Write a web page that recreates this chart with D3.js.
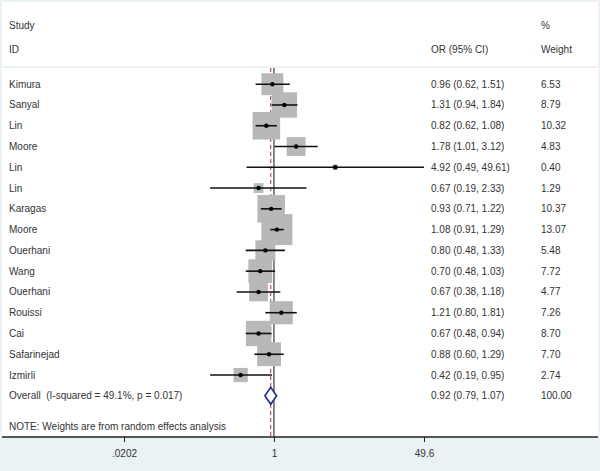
<!DOCTYPE html>
<html><head><meta charset="utf-8">
<script src="https://cdn.jsdelivr.net/npm/d3@7"></script>
<style>body{margin:0;background:#eaf2f3}svg text{font-family:"Liberation Sans",Arial,sans-serif;font-size:10px;fill:#333;white-space:pre}</style>
</head><body><svg id="c" width="600" height="471"></svg>
<script>
const studies = ["Kimura","Sanyal","Lin","Moore","Lin","Lin","Karagas","Moore","Ouerhani","Wang","Ouerhani","Rouissi","Cai","Safarinejad","Izmirli"];
const orVals = [0.96,1.31,0.82,1.78,4.92,0.67,0.93,1.08,0.80,0.70,0.67,1.21,0.67,0.88,0.42];
const loVals = [0.62,0.94,0.62,1.01,0.49,0.19,0.71,0.91,0.48,0.48,0.38,0.80,0.48,0.60,0.19];
const hiVals = [1.51,1.84,1.08,3.12,49.61,2.33,1.22,1.29,1.33,1.03,1.18,1.81,0.94,1.29,0.95];
const weights = [6.53,8.79,10.32,4.83,0.40,1.29,10.37,13.07,5.48,7.72,4.77,7.26,8.70,7.70,2.74];
const overall = {label:"Overall  (I-squared = 49.1%, p = 0.017)", or:0.92, lo:0.79, hi:1.07, weight:"100.00"};
const tickVals = [0.0202, 1, 49.6];
const tickLabels = [".0202", "1", "49.6"];
const note = "NOTE: Weights are from random effects analysis";

const svg = d3.select("#c");
const W = 600, H = 471;
svg.append("rect").attr("width",W).attr("height",H).attr("fill","#eaf2f3");
svg.append("rect").attr("x",2).attr("y",2).attr("width",596).attr("height",64).attr("fill","#fff");
svg.append("rect").attr("x",2).attr("y",68).attr("width",596).attr("height",369).attr("fill","#fff");

const x = d3.scaleLog().domain([tickVals[0], tickVals[2]]).range([124, 424]);
const rowIdx = d3.range(studies.length + 1);
const y = d3.scaleLinear().domain([0, 15]).range([84.2, 395.8]);
const bodyTop = 68, axisY = 437;
const fmt = d3.format(".2f");

// headers
const hdr = svg.append("g");
hdr.append("text").attr("x",9).attr("y",25.5).attr("dominant-baseline","central").text("Study");
hdr.append("text").attr("x",9).attr("y",49).attr("dominant-baseline","central").text("ID");
hdr.append("text").attr("x",431).attr("y",49).attr("dominant-baseline","central").text("OR (95% CI)");
hdr.append("text").attr("x",541).attr("y",25.5).attr("dominant-baseline","central").text("%");
hdr.append("text").attr("x",541).attr("y",49).attr("dominant-baseline","central").text("Weight");

// null line and overall dashed line
svg.append("line").attr("x1",x(1)).attr("x2",x(1)).attr("y1",bodyTop).attr("y2",axisY).attr("stroke","#111").attr("stroke-width",1);
svg.append("line").attr("x1",x(overall.or)).attr("x2",x(overall.or)).attr("y1",bodyTop).attr("y2",axisY)
  .attr("stroke","#9b3a3a").attr("stroke-width",1).attr("stroke-dasharray","4,3");

const k = 31 / Math.sqrt(13.07);
const data = studies.map((s,i)=>({s, or:orVals[i], lo:loVals[i], hi:hiVals[i], w:weights[i], i}));

svg.append("g").selectAll("rect").data(data).join("rect")
  .attr("x", d => x(d.or) - k*Math.sqrt(d.w)/2)
  .attr("y", d => y(d.i) - k*Math.sqrt(d.w)/2)
  .attr("width", d => k*Math.sqrt(d.w)).attr("height", d => k*Math.sqrt(d.w))
  .attr("fill", "#b8b8b8");

svg.append("g").selectAll("line").data(data).join("line")
  .attr("x1", d => x(d.lo)).attr("x2", d => x(d.hi))
  .attr("y1", d => y(d.i)).attr("y2", d => y(d.i))
  .attr("stroke", "#111").attr("stroke-width", 1.6);

svg.append("g").selectAll("circle").data(data).join("circle")
  .attr("cx", d => x(d.or)).attr("cy", d => y(d.i)).attr("r", 2.2).attr("fill", "#000");

// overall diamond
const oy = y(15);
svg.append("path")
  .attr("d", `M${x(overall.lo)},${oy}L${x(overall.or)},${oy-8.5}L${x(overall.hi)},${oy}L${x(overall.or)},${oy+8.5}Z`)
  .attr("fill","#fff").attr("stroke","#1f2a8c").attr("stroke-width",1.6);

// labels
const lab = svg.append("g");
lab.selectAll("text.s").data(data).join("text").attr("class","s")
  .attr("x",9).attr("y",d=>y(d.i)).attr("dominant-baseline","central").text(d=>d.s);
lab.selectAll("text.c").data(data).join("text").attr("class","c")
  .attr("x",431).attr("y",d=>y(d.i)).attr("dominant-baseline","central")
  .text(d=>`${fmt(d.or)} (${fmt(d.lo)}, ${fmt(d.hi)})`);
lab.selectAll("text.w").data(data).join("text").attr("class","w")
  .attr("x",541).attr("y",d=>y(d.i)).attr("dominant-baseline","central").text(d=>fmt(d.w));
lab.append("text").attr("x",9).attr("y",oy).attr("dominant-baseline","central").text(overall.label);
lab.append("text").attr("x",431).attr("y",oy).attr("dominant-baseline","central")
  .text(`${fmt(overall.or)} (${fmt(overall.lo)}, ${fmt(overall.hi)})`);
lab.append("text").attr("x",541).attr("y",oy).attr("dominant-baseline","central").text(overall.weight);
lab.append("text").attr("x",9).attr("y",426).attr("dominant-baseline","central").text(note);

// axis
svg.append("line").attr("x1",2).attr("x2",598).attr("y1",axisY).attr("y2",axisY).attr("stroke","#222").attr("stroke-width",1.5);
const ax = svg.append("g").attr("transform",`translate(0,${axisY})`)
  .call(d3.axisBottom(x).tickValues(tickVals).tickFormat((d,i)=>tickLabels[i]).tickSize(5).tickPadding(8));
ax.select(".domain").remove();
ax.selectAll(".tick line").attr("stroke","#222");
ax.selectAll(".tick text").style("font-family","Liberation Sans, Arial, sans-serif").style("font-size","10px").attr("fill","#333");
</script></body></html>
